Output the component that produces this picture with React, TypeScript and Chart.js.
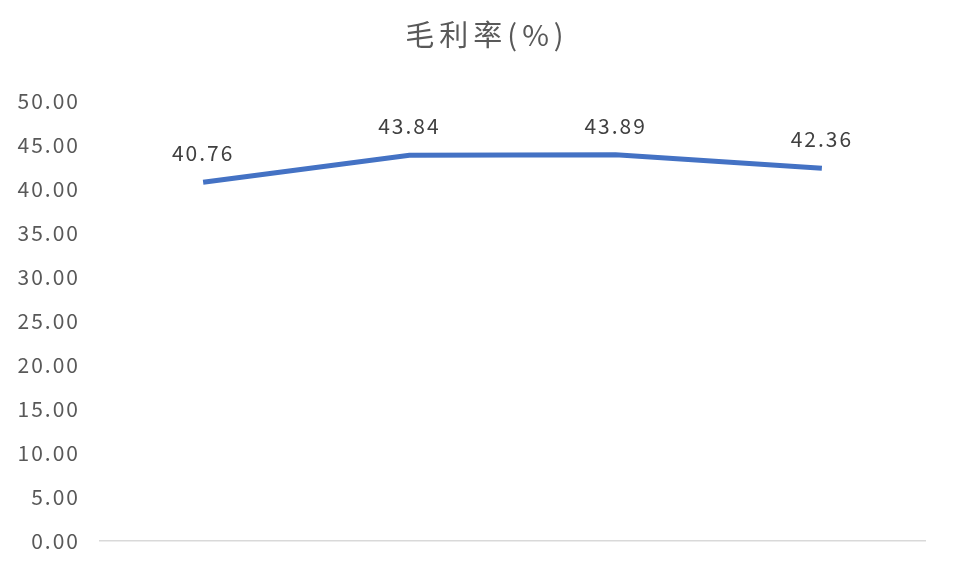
import React, { useEffect, useRef } from "react";
import { Chart, registerables } from "chart.js";

Chart.register(...registerables);

const categories = ["2016", "2017", "2018", "2019"];
const grossMargin = [40.76, 43.84, 43.89, 42.36];
const titleText = "毛利率(%)";
const yMin = 0;
const yMax = 50;
const yStep = 5;

const FONT = "'Noto Sans CJK SC', 'Noto Sans', sans-serif";

const overlayPlugin = {
  id: "overlay",
  beforeDraw(chart: any) {
    chart.ctx.letterSpacing = "2px";
  },
  afterDatasetsDraw(chart: any) {
    const ctx = chart.ctx;
    ctx.save();
    const meta = chart.getDatasetMeta(0);
    ctx.letterSpacing = "2px";
    ctx.font = `21px ${FONT}`;
    ctx.fillStyle = "#404040";
    ctx.textAlign = "center";
    ctx.textBaseline = "middle";
    meta.data.forEach((pt: any, i: number) => {
      ctx.fillText(grossMargin[i].toFixed(2), pt.x, pt.y - 29);
    });
    ctx.letterSpacing = "5px";
    ctx.font = `29px ${FONT}`;
    ctx.fillStyle = "#595959";
    ctx.fillText(titleText, 487, 35);
    ctx.restore();
  },
  afterDraw(chart: any) {
    chart.ctx.letterSpacing = "0px";
  },
};

export default function App() {
  const ref = useRef<HTMLCanvasElement>(null);
  useEffect(() => {
    document.body.style.margin = "0";
    const chart = new Chart(ref.current!, {
      type: "line",
      data: {
        labels: categories,
        datasets: [
          {
            data: grossMargin,
            borderColor: "#4472C4",
            borderWidth: 5,
            pointRadius: 0,
            tension: 0,
            fill: false,
          },
        ],
      },
      options: {
        responsive: false,
        animation: false,
        layout: { padding: { top: 101, bottom: 22, right: 54, left: 0 } },
        plugins: { legend: { display: false }, tooltip: { enabled: false }, title: { display: false } },
        scales: {
          x: {
            offset: true,
            grid: { display: false },
            border: { display: true, color: "#d9d9d9", width: 1.5 },
            ticks: { display: false },
            afterFit(scale: any) {
              scale.height = 0;
            },
          },
          y: {
            min: yMin,
            max: yMax,
            grid: { display: false, drawTicks: false },
            border: { display: false },
            ticks: {
              stepSize: yStep,
              padding: 20,
              color: "#595959",
              font: { size: 21, family: FONT },
              callback: (v: any) => Number(v).toFixed(2),
            },
            afterFit(scale: any) {
              scale.width = 100;
              scale.paddingTop = 0;
              scale.paddingBottom = 0;
            },
          },
        },
      },
      plugins: [overlayPlugin],
    });
    return () => chart.destroy();
  }, []);
  return <canvas ref={ref} width={979} height={563} style={{ display: "block" }} />;
}
